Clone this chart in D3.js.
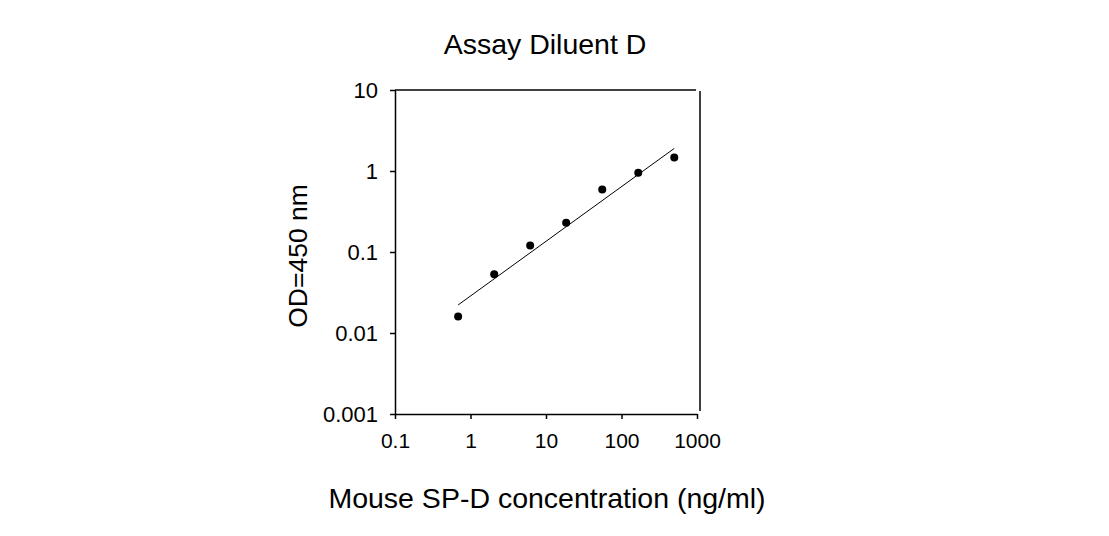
<!DOCTYPE html>
<html lang="en">
<head>
    <meta charset="UTF-8">
    <title>Assay Diluent D</title>
    <script src="https://d3js.org/d3.v7.min.js"></script>
    <style>
        body {
            margin: 0;
            background: #fff;
        }
        svg {
            font-family: "Liberation Sans", Arial, sans-serif;
        }
        .axis path, .axis line {
            stroke: #000;
            stroke-width: 1.5;
        }
        .axis text {
            font-size: 21px;
            fill: #000;
        }
        .y.axis text {
            font-size: 22px;
        }
    </style>
</head>
<body>
    <div id="chart"></div>
    <script>
        // standard curve points (ng/ml vs OD)
        const concentration = [0.686, 2.06, 6.17, 18.5, 55.6, 166.7, 500];
        const od = [0.016, 0.053, 0.12, 0.23, 0.59, 0.95, 1.47];

        // fitted line end points
        const fitX = [0.686, 500];
        const fitY = [0.0222, 1.9];

        const xTicks = [0.1, 1, 10, 100, 1000];
        const xTickLabels = ["0.1", "1", "10", "100", "1000"];
        const yTicks = [0.001, 0.01, 0.1, 1, 10];
        const yTickLabels = ["0.001", "0.01", "0.1", "1", "10"];

        const W = 1109, H = 536;
        const margin = {left: 395, top: 90};
        const width = 302, height = 324;

        const svg = d3.select("#chart").append("svg")
            .attr("width", W)
            .attr("height", H);

        const g = svg.append("g")
            .attr("transform", `translate(${margin.left},${margin.top})`);

        const x = d3.scaleLog()
            .domain([0.1, 1000])
            .range([0, width]);

        const y = d3.scaleLog()
            .domain([0.001, 10])
            .range([height, 0]);

        g.append("g")
            .attr("class", "x axis")
            .attr("transform", `translate(0,${height})`)
            .call(d3.axisBottom(x)
                .tickValues(xTicks)
                .tickFormat((d, i) => xTickLabels[i])
                .tickSizeInner(5)
                .tickSizeOuter(0)
                .tickPadding(14));

        g.append("g")
            .attr("class", "y axis")
            .call(d3.axisLeft(y)
                .tickValues(yTicks)
                .tickFormat((d, i) => yTickLabels[i])
                .tickSizeInner(5)
                .tickSizeOuter(0)
                .tickPadding(12));

        // frame: top and right edges
        g.append("line")
            .attr("x1", 0).attr("x2", width - 1)
            .attr("y1", 0).attr("y2", 0)
            .attr("stroke", "#000")
            .attr("stroke-width", 1.5);

        g.append("line")
            .attr("x1", width + 3).attr("x2", width + 3)
            .attr("y1", 1).attr("y2", height - 3)
            .attr("stroke", "#000")
            .attr("stroke-width", 1.5);

        // fit line
        g.append("line")
            .attr("x1", x(fitX[0])).attr("y1", y(fitY[0]))
            .attr("x2", x(fitX[1])).attr("y2", y(fitY[1]))
            .attr("stroke", "#000")
            .attr("stroke-width", 1);

        g.selectAll(".dot")
            .data(concentration)
            .enter().append("circle")
            .attr("class", "dot")
            .attr("cx", d => x(d))
            .attr("cy", (d, i) => y(od[i]))
            .attr("r", 4)
            .attr("fill", "#000");

        svg.append("text")
            .attr("x", 545)
            .attr("y", 54)
            .attr("text-anchor", "middle")
            .style("font-size", "28.5px")
            .text("Assay Diluent D");

        svg.append("text")
            .attr("x", 547)
            .attr("y", 508)
            .attr("text-anchor", "middle")
            .style("font-size", "28.5px")
            .text("Mouse SP-D concentration (ng/ml)");

        svg.append("text")
            .attr("transform", "translate(307,256) rotate(-90)")
            .attr("text-anchor", "middle")
            .style("font-size", "26.5px")
            .text("OD=450 nm");
    </script>
</body>
</html>
